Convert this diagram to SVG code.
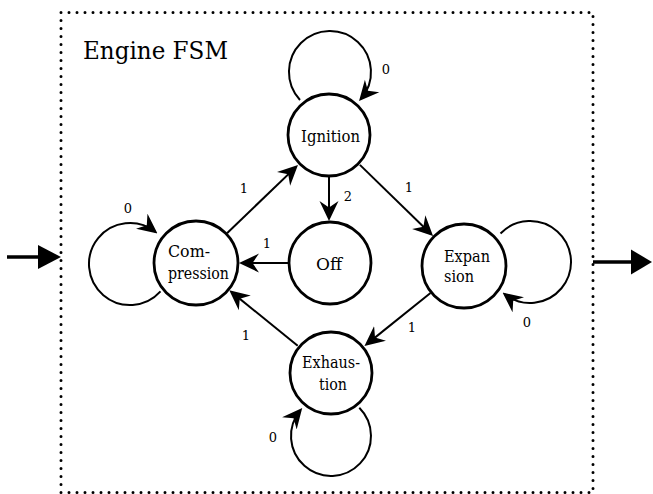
<svg xmlns="http://www.w3.org/2000/svg" width="653" height="494" viewBox="0 0 653 494">
  <defs>
    <style>
      .frame { fill: none; stroke: #000; stroke-width: 3; stroke-dasharray: 0 8; stroke-linecap: round; }
      .state { fill: #fff; stroke: #000; stroke-width: 2.8; }
      text { font-family: "DejaVu Serif", serif; fill: #000; }
      .label { font-size: 16px; }
      .title { font-size: 25px; }
      .elabel { font-size: 13px; text-anchor: middle; }
      .edge { fill: none; stroke: #000; stroke-width: 2; marker-end: url(#head); }
      .loop { fill: none; stroke: #000; stroke-width: 2; marker-end: url(#head); }
      .io { fill: none; stroke: #000; stroke-width: 3.6; }
    </style>
    <marker id="head" viewBox="0 0 20 20" refX="17" refY="10" markerWidth="20" markerHeight="20" markerUnits="userSpaceOnUse" orient="auto">
      <path d="M0,0.5 L20,10 L0,19.5 L6.5,10 z" fill="#000"/>
    </marker>
  </defs>

  <!-- machine boundary -->
  <rect class="frame" x="61" y="12.5" width="532" height="480"/>
  <text class="title" x="83" y="59" textLength="145" lengthAdjust="spacingAndGlyphs">Engine FSM</text>

  <!-- entry and exit arrows -->
  <g id="entry">
    <line class="io" x1="7" y1="257" x2="42" y2="257"/>
    <polygon points="38,245 61,257 38,269" fill="#000"/>
  </g>
  <g id="exit">
    <line class="io" x1="593" y1="262" x2="634" y2="262"/>
    <polygon points="631,249.5 652,262 631,274.5" fill="#000"/>
  </g>

  <!-- transitions -->
  <g id="connectors">
    <!-- self loops -->
    <path class="loop" d="M300,100 A41,41 0 1 1 361,98.8"/>
    <path class="loop" d="M160.5,291.4 A41,41 0 1 1 155.1,231.6"/>
    <path class="loop" d="M500.5,233.5 A41,41 0 1 1 504.9,294.4"/>
    <path class="loop" d="M359.3,407.7 A40,40 0 1 1 300.3,410.3"/>
    <!-- state to state -->
    <path class="edge" d="M227,233.2 L295.8,167.1"/>
    <path class="edge" d="M329,177 L329,218"/>
    <path class="edge" d="M359.9,164.9 L430.9,234"/>
    <path class="edge" d="M288,263 L242,263"/>
    <path class="edge" d="M430.5,293 L366.8,344.1"/>
    <path class="edge" d="M297.7,345.8 L231.6,292.1"/>
  </g>

  <!-- transition inputs -->
  <g id="edge-labels">
    <text class="elabel" x="386" y="74">0</text>
    <text class="elabel" x="128" y="213">0</text>
    <text class="elabel" x="527" y="327">0</text>
    <text class="elabel" x="273" y="442">0</text>
    <text class="elabel" x="244" y="193">1</text>
    <text class="elabel" x="348" y="201">2</text>
    <text class="elabel" x="409" y="192">1</text>
    <text class="elabel" x="267" y="248">1</text>
    <text class="elabel" x="412" y="332">1</text>
    <text class="elabel" x="246" y="340">1</text>
  </g>

  <!-- states -->
  <g id="ignition">
    <circle class="state" cx="329" cy="135" r="41"/>
    <text class="label" x="301" y="142" textLength="59" lengthAdjust="spacingAndGlyphs">Ignition</text>
  </g>
  <g id="off">
    <circle class="state" cx="330" cy="263" r="41"/>
    <text class="label" x="316" y="270" textLength="26" lengthAdjust="spacingAndGlyphs">Off</text>
  </g>
  <g id="compression">
    <circle class="state" cx="196" cy="263" r="42"/>
    <text class="label" x="168" y="257" textLength="42" lengthAdjust="spacingAndGlyphs">Com-</text>
    <text class="label" x="168" y="279" textLength="61" lengthAdjust="spacingAndGlyphs">pression</text>
  </g>
  <g id="expansion">
    <circle class="state" cx="464" cy="266" r="42"/>
    <text class="label" x="444" y="262" textLength="46" lengthAdjust="spacingAndGlyphs">Expan</text>
    <text class="label" x="444" y="282" textLength="30" lengthAdjust="spacingAndGlyphs">sion</text>
  </g>
  <g id="exhaustion">
    <circle class="state" cx="331" cy="373" r="41"/>
    <text class="label" x="302" y="368" textLength="58" lengthAdjust="spacingAndGlyphs">Exhaus-</text>
    <text class="label" x="319" y="390" textLength="28" lengthAdjust="spacingAndGlyphs">tion</text>
  </g>
</svg>
